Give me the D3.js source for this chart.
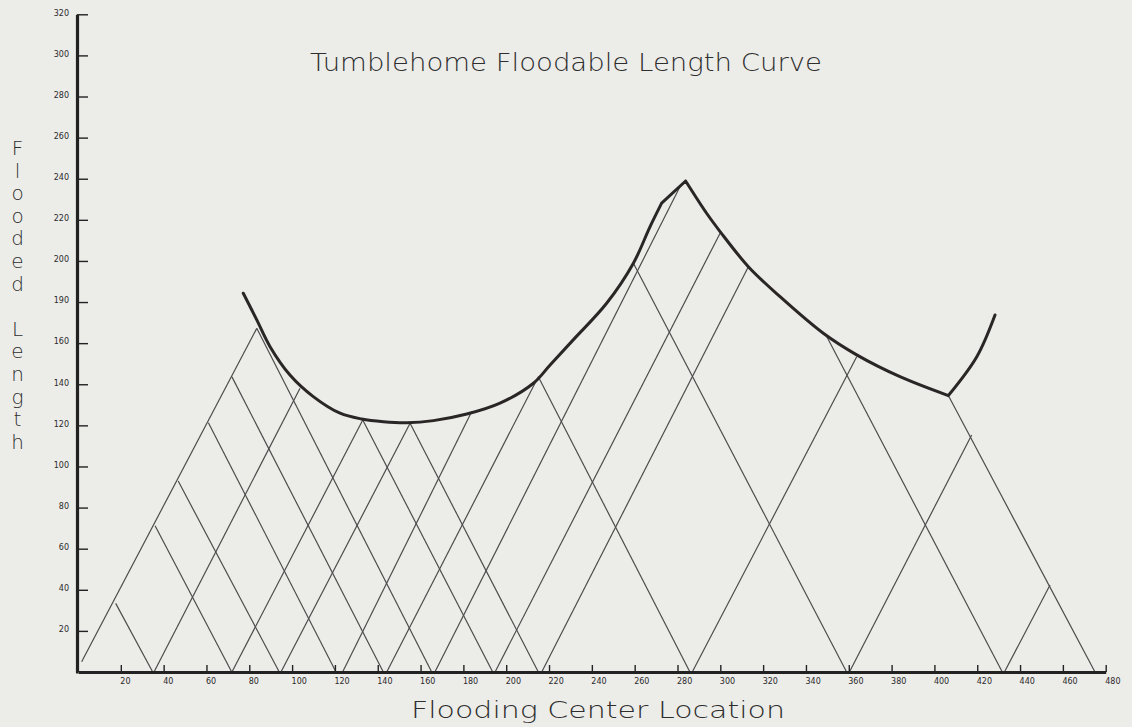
<!DOCTYPE html>
<html>
<head>
<meta charset="utf-8">
<script src="https://cdn.jsdelivr.net/npm/d3@7"></script>
<style>
  html, body { margin: 0; padding: 0; background: #ecece9; }
  svg { display: block; }
</style>
</head>
<body>
<svg id="chart" width="1132" height="727"></svg>
<script>
// ---------------- data ----------------
const titleText = "Tumblehome Floodable Length Curve";
const xLabelText = "Flooding Center Location";
const yLabelText = "Flooded Length";

const xTicks = [20,40,60,80,100,120,140,160,180,200,220,240,260,280,300,320,340,360,380,400,420,440,460,480];
const yTicks = [20,40,60,80,100,120,140,160,180,200,220,240,260,280,300,320];
const yTickLabels = ["20","40","60","80","100","120","140","160","190","200","220","240","260","280","300","320"];

// floodable length curve (flooding center, floodable length)
const curveX = [77.2, 83.5, 89.7, 99.0, 109.9, 122.4, 132.5, 142.6, 153.5, 166.0, 181.6, 197.1, 212.7, 220.5, 231.3, 246.9, 259.4, 267.2, 272.6, 283.8, 293.6, 299.9, 313.1, 327.9, 348.1, 363.7, 383.9, 406.5, 419.8, 428.3];
const curveY = [184.3, 171.3, 158.3, 144.5, 134.0, 125.9, 123.1, 121.8, 121.3, 122.3, 125.5, 130.8, 140.5, 149.4, 161.6, 179.4, 198.9, 216.7, 228.1, 238.9, 223.2, 214.3, 197.2, 182.6, 164.8, 154.3, 143.7, 134.5, 153.4, 173.7];
// indices of sharp corners of the curve
const curveCorners = [0, 18, 19, 27, 29];

// rising triangle sides: start at bulkhead foot, end at top point
const risingFootX = [1.7, 35.5, 71.9, 94.8, 123.6, 144.2, 166.7, 194.8, 216.6, 286.9, 360.3, 432.7];
const risingFootY = [5, 0, 0, 0, 0, 0, 0, 0, 0, 0, 0, 0];
const risingTopX  = [83.5, 103.7, 133.0, 155.1, 183.9, 215.0, 281.2, 299.9, 313.1, 363.7, 417.4, 454.0];
const risingTopY  = [167.2, 138.1, 122.6, 121.0, 126.7, 143.7, 236.2, 213.5, 197.2, 153.4, 115.3, 42.3];

// falling triangle sides: from top point down to bulkhead foot
const fallingTopX  = [17.6, 36.0, 46.8, 60.9, 71.9, 83.5, 133.0, 155.1, 215.0, 259.4, 349.7, 406.5];
const fallingTopY  = [33.4, 71.2, 92.9, 121.3, 143.6, 167.2, 122.6, 121.0, 143.7, 198.9, 163.2, 134.5];
const fallingFootX = [34.9, 71.8, 94.0, 120.5, 142.6, 165.2, 193.7, 215.0, 285.8, 359.0, 431.7, 475.0];

// ---------------- chart ----------------
const svg = d3.select("#chart");
const x = d3.scaleLinear().domain([0, 480]).range([78, 1105.7]);
const y = d3.scaleLinear().domain([0, 320]).range([672, 14.3]);

const lineColor = "#4c4c4c";
const g = svg.append("g");

// triangle lattice
const risingSegs = risingFootX.map((fx, i) => ({x1: fx, y1: risingFootY[i], x2: risingTopX[i], y2: risingTopY[i]}));
const fallingSegs = fallingFootX.map((fx, i) => ({x1: fallingTopX[i], y1: fallingTopY[i], x2: fx, y2: 0}));

g.selectAll("line.rise").data(risingSegs).join("line")
  .attr("class", "rise")
  .attr("x1", d => x(d.x1)).attr("y1", d => y(d.y1))
  .attr("x2", d => x(d.x2)).attr("y2", d => y(d.y2))
  .attr("stroke", lineColor).attr("stroke-width", 1.2);

g.selectAll("line.fall").data(fallingSegs).join("line")
  .attr("class", "fall")
  .attr("x1", d => x(d.x1)).attr("y1", d => y(d.y1))
  .attr("x2", d => x(d.x2)).attr("y2", d => y(d.y2))
  .attr("stroke", lineColor).attr("stroke-width", 1.2);

// floodable length curve, drawn as smooth pieces between sharp corners
const curvePts = curveX.map((cx, i) => [cx, curveY[i]]);
const pieces = [];
for (let k = 0; k < curveCorners.length - 1; k++) {
  pieces.push(curvePts.slice(curveCorners[k], curveCorners[k + 1] + 1));
}
const curveLine = d3.line().x(d => x(d[0])).y(d => y(d[1])).curve(d3.curveCatmullRom.alpha(0.5));
g.append("path")
  .attr("fill", "none")
  .attr("stroke", "#2a2626")
  .attr("stroke-width", 3)
  .attr("stroke-linejoin", "round")
  .attr("stroke-linecap", "round")
  .attr("d", pieces.map(p => curveLine(p)).join(""));

// axes
const yAxis = d3.axisLeft(y)
  .tickValues(yTicks)
  .tickFormat((d, i) => yTickLabels[i])
  .tickSizeInner(-11).tickSizeOuter(0).tickPadding(8);
const gy = svg.append("g").attr("transform", "translate(77,0)").call(yAxis);
gy.select(".domain").attr("stroke", "#222").attr("stroke-width", 3.2);
gy.selectAll(".tick line").attr("stroke", "#222").attr("stroke-width", 1.4);
gy.selectAll(".tick text")
  .attr("font-family", "DejaVu Sans, sans-serif")
  .attr("font-size", 8)
  .attr("fill", "#2a2a2a")
  .attr("dy", "0.1em");

const xAxis = d3.axisBottom(x)
  .tickValues(xTicks)
  .tickFormat(d3.format("d"))
  .tickSizeInner(-7).tickSizeOuter(0).tickPadding(6);
const gx = svg.append("g").attr("transform", "translate(0,672)").call(xAxis);
gx.select(".domain").attr("stroke", "#222").attr("stroke-width", 3.2);
gx.selectAll(".tick line").attr("stroke", "#222").attr("stroke-width", 1.4);
gx.selectAll(".tick text")
  .attr("font-family", "DejaVu Sans, sans-serif")
  .attr("font-size", 8)
  .attr("fill", "#2a2a2a")
  .attr("text-anchor", "start")
  .attr("x", -1);

// extend x axis line to the corner
svg.append("line")
  .attr("x1", 76).attr("x2", x(0)).attr("y1", 672).attr("y2", 672)
  .attr("stroke", "#222").attr("stroke-width", 3.2);

// title
svg.append("text")
  .attr("x", 310).attr("y", 71)
  .attr("textLength", 512).attr("lengthAdjust", "spacingAndGlyphs")
  .attr("font-family", "DejaVu Sans, sans-serif")
  .attr("font-weight", 200)
  .attr("font-size", 24)
  .attr("fill", "#2e2e2e")
  .text(titleText);

// x axis title
svg.append("text")
  .attr("x", 411).attr("y", 718)
  .attr("textLength", 374).attr("lengthAdjust", "spacingAndGlyphs")
  .attr("font-family", "DejaVu Sans, sans-serif")
  .attr("font-weight", 200)
  .attr("font-size", 23)
  .attr("fill", "#2e2e2e")
  .text(xLabelText);

// y axis title, stacked letters
const yl = svg.append("text")
  .attr("font-family", "DejaVu Sans, sans-serif")
  .attr("font-weight", 200)
  .attr("font-size", 20)
  .attr("fill", "#2e2e2e")
  .attr("text-anchor", "middle");
yLabelText.split("").forEach((ch, i) => {
  yl.append("tspan")
    .attr("x", 17.5)
    .attr("y", 155 + i * 22.6)
    .text(ch === " " ? "\u00a0" : ch);
});
</script>
</body>
</html>
